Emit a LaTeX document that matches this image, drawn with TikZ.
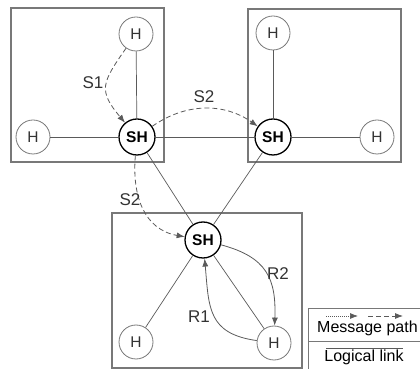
\documentclass[tikz,border=0pt]{standalone}
\usepackage{fontspec}
\setmainfont{Liberation Sans}
\usetikzlibrary{arrows.meta}
\definecolor{boxc}{HTML}{787878}
\definecolor{linec}{HTML}{5A5A5A}
\definecolor{txtc}{HTML}{333333}
\begin{document}
\begin{tikzpicture}[x=1pt,y=1pt,
  hnode/.style={circle,draw=boxc,line width=0.8pt,fill=white,minimum size=34pt,inner sep=0pt,
    text=txtc,font=\fontsize{15.5}{15.5}\selectfont},
  shnode/.style={circle,draw=black,line width=1.3pt,fill=white,minimum size=36pt,inner sep=0pt,
    font=\bfseries\fontsize{15.5}{15.5}\selectfont},
  area/.style={draw=boxc,line width=1.1pt},
  link/.style={draw=linec,line width=0.7pt},
  msg/.style={draw=linec,line width=0.8pt,dash pattern=on 5pt off 3pt,-{Latex[length=8pt,width=6pt]}},
  msgr/.style={draw=linec,line width=0.8pt,-{Latex[length=8pt,width=6pt]}},
  lbl/.style={text=txtc,font=\fontsize{17}{17}\selectfont,inner sep=0pt},
  leg/.style={text=black,font=\fontsize{16}{16}\selectfont,inner sep=0pt}]
\useasboundingbox (0,0) rectangle (420,369);
% areas
\draw[area] (11,361) rectangle (164,207);
\draw[area] (248,360) rectangle (401,207);
\draw[area] (112,156) rectangle (302,1);
% nodes
\node[shnode] (sh1) at (137,232) {SH};
\node[hnode] (h1a) at (136,335) {H};
\node[hnode] (h1b) at (33,232) {H};
\node[shnode] (sh2) at (273,232) {SH};
\node[hnode] (h2a) at (273,336) {H};
\node[hnode] (h2b) at (377,232) {H};
\node[shnode] (sh3) at (203,129) {SH};
\node[hnode] (h3a) at (136,27) {H};
\node[hnode] (h3b) at (274,26) {H};
% logical links
\draw[link] (h1a) -- (sh1);
\draw[link] (h1b) -- (sh1);
\draw[link] (sh1) -- (sh2);
\draw[link] (sh1) -- (sh3);
\draw[link] (sh2) -- (sh3);
\draw[link] (h2a) -- (sh2);
\draw[link] (h2b) -- (sh2);
\draw[link] (sh3) -- (h3a);
\draw[link] (sh3) -- (h3b);
% message paths
\draw[msg] (h1a) to[out=-125,in=130,looseness=1.45] (sh1);
\draw[msg] (sh1) to[out=35,in=145] (sh2);
\draw[msg] (sh1) to[out=-95,in=170,looseness=1.1] (sh3);
\draw[msgr] (sh3) to[out=-15,in=88,looseness=1.25] (h3b);
\draw[msgr] (h3b) to[out=172,in=-85,looseness=1.3] (sh3);
% labels
\node[lbl] (ls1) at (93,286) {S1};
\node[lbl] (ls2a) at (204,272) {S2};
\node[lbl] (ls2b) at (130,169) {S2};
\node[lbl] (lr2) at (278,95) {R2};
\node[lbl] (lr1) at (199,52) {R1};
% legend
\draw[area,line width=1pt] (421,60) -- (308,60) -- (308,0);
\draw[area,line width=1pt] (308,27) -- (421,27);
\coordinate (d1) at (326,53);
\coordinate (d2) at (358,53);
\coordinate (e1) at (368,53);
\coordinate (e2) at (403,53);
\coordinate (l1) at (326,21);
\coordinate (l2) at (403,21);
\draw[draw=linec,line width=0.7pt,dash pattern=on 1pt off 1pt,-{Latex[length=8pt,width=6pt]}] (d1) -- (d2);
\draw[msg] (e1) -- (e2);
\draw[link] (l1) -- (l2);
\node[leg,anchor=west] (lmp) at (317,41) {Message path};
\node[leg] (lll) at (364,12) {Logical link};
\end{tikzpicture}
\end{document}
